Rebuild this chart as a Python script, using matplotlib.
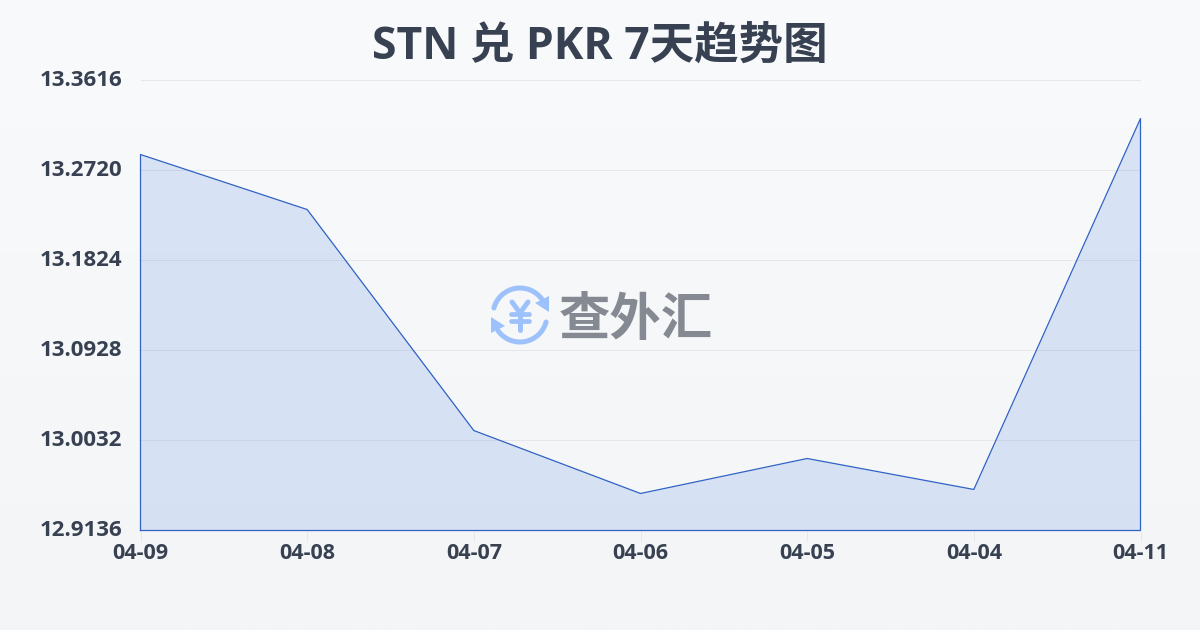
import numpy as np
import matplotlib
matplotlib.use("Agg")
import matplotlib.pyplot as plt
from matplotlib.patches import Arc, Polygon

W, H = 1200, 630

# data
dates = ["04-09", "04-08", "04-07", "04-06", "04-05", "04-04", "04-11"]
rates = [13.2875, 13.2328, 13.0130, 12.9504, 12.9852, 12.9544, 13.3233]
y_ticks = [12.9136, 13.0032, 13.0928, 13.1824, 13.2720, 13.3616]
y_labels = ["12.9136", "13.0032", "13.0928", "13.1824", "13.2720", "13.3616"]

TEXT = "#374151"
LINE = "#2f62c4"
LATIN = ["Open Sans", "Noto Sans CJK SC", "DejaVu Sans"]
CJK = ["Noto Sans CJK SC", "DejaVu Sans"]

fig = plt.figure(figsize=(W / 100, H / 100), dpi=100)

# background gradient
bg = fig.add_axes([0, 0, 1, 1], zorder=0)
top = np.array([249, 250, 252]) / 255
bottom = np.array([243, 245, 247]) / 255
t = np.linspace(0, 1, 256)[:, None, None]
bg.imshow(top + (bottom - top) * t, aspect="auto", extent=[0, 1, 0, 1])
bg.axis("off")

# plot area in pixels: x 140-1141, y 80-530.5
ax = fig.add_axes([140.5 / W, 1 - 530.5 / H, 1000 / W, 450.5 / H], zorder=1)
ax.patch.set_alpha(0)
x = np.arange(len(dates))
ax.set_xlim(0, len(dates) - 1)
ax.set_ylim(y_ticks[0], y_ticks[-1])

ax.grid(axis="y", color="#e5e7eb", linewidth=0.72)
ax.set_axisbelow(True)
ax.fill_between(x, rates, y_ticks[0], color="#3b74e0", alpha=0.16, linewidth=0, zorder=2)
ax.plot(
    np.r_[x[0], x, x[-1], x[0]],
    np.r_[y_ticks[0], rates, y_ticks[0], y_ticks[0]],
    color=LINE, linewidth=0.9, solid_joinstyle="round", clip_on=False, zorder=3,
)

for side in ax.spines.values():
    side.set_visible(False)

ax.set_xticks(x)
ax.set_xticklabels(dates, family=LATIN, fontsize=15.5, fontweight="bold", color=TEXT)
ax.tick_params(axis="x", length=7, width=0.72, color="#e5e7eb", pad=2)
ax.set_yticks(y_ticks)
ax.set_yticklabels(y_labels, family=LATIN, fontsize=16, fontweight="bold", color=TEXT)
ax.tick_params(axis="y", length=0, pad=13)
for lab in ax.get_yticklabels():
    lab.set_verticalalignment("center")

fig.text(600 / W, 1 - 47 / H, "STN 兑 PKR 7天趋势图", family=LATIN, fontsize=32,
         fontweight="bold", color=TEXT, ha="center", va="center", zorder=5)

# watermark
ov = fig.add_axes([0, 0, 1, 1], zorder=4)
ov.set_xlim(0, W)
ov.set_ylim(H, 0)
ov.axis("off")
BLUE = "#9dc1fa"
cx, cy = 520, 315
ov.add_patch(Arc((cx, cy), 54, 54, theta1=195, theta2=325, color=BLUE, lw=3.6, capstyle="round"))
ov.add_patch(Arc((cx, cy), 54, 54, theta1=15, theta2=145, color=BLUE, lw=3.6, capstyle="round"))
ov.add_patch(Polygon([[549, 296], [549, 312], [535, 303]], color=BLUE, lw=0))
ov.add_patch(Polygon([[491, 317], [491, 333], [505, 326]], color=BLUE, lw=0))
ov.plot([512, 520, 528], [302, 313, 302], color=BLUE, lw=3.6, solid_capstyle="round")
ov.plot([520, 520], [313, 330], color=BLUE, lw=3.6, solid_capstyle="round")
ov.plot([511, 529], [314, 314], color=BLUE, lw=3.4, solid_capstyle="round")
ov.plot([511, 529], [321, 321], color=BLUE, lw=3.4, solid_capstyle="round")
ov.text(636, 319, "查外汇", family=CJK, fontsize=37, fontweight="heavy", color="#858a92",
        ha="center", va="center")

fig.savefig("out.png", dpi=100)
